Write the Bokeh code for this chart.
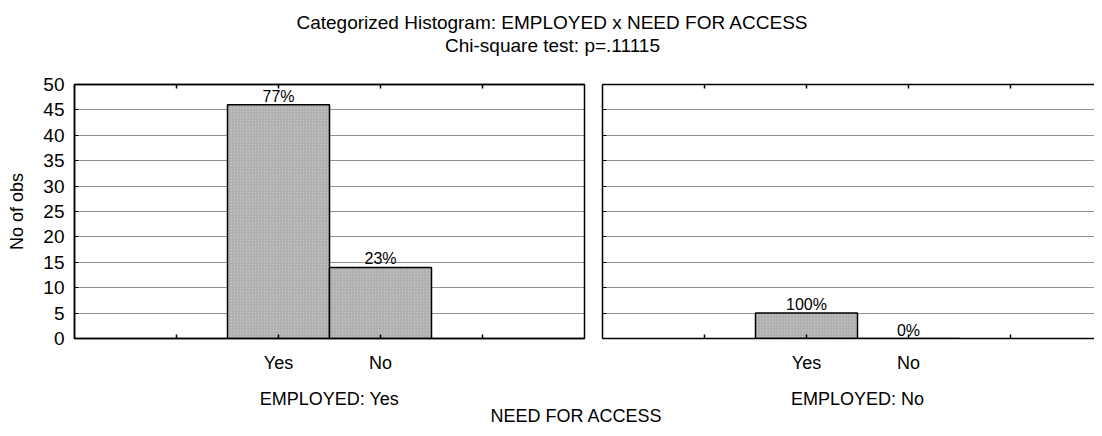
from bokeh.plotting import figure
from bokeh.layouts import column, row
from bokeh.models import Range1d, FixedTicker, LinearAxis, ColumnDataSource, Grid
from bokeh.core.properties import value
from bokeh.embed import file_html
from bokeh.resources import INLINE

# ---- data ----
title_line1 = "Categorized Histogram: EMPLOYED x NEED FOR ACCESS"
title_line2 = "Chi-square test: p=.11115"
x_title = "NEED FOR ACCESS"
y_title = "No of obs"
need_categories = ["Yes", "No"]
panel_labels = ["EMPLOYED: Yes", "EMPLOYED: No"]
counts_employed_yes = [46, 14]
counts_employed_no = [5, 0]
y_ticks = [0, 5, 10, 15, 20, 25, 30, 35, 40, 45, 50]

# ---- style / layout ----
FONT = "Liberation Sans"
TOTAL_W = 1094
FRAME_H = 254
UNIT_PX = 102
LEFT_BORDER = 74
GAP_L = 2
GAP_R = 16
FRAME_W1 = 5 * UNIT_PX
FRAME_W2 = TOTAL_W - LEFT_BORDER - FRAME_W1 - GAP_L - GAP_R
TOP_BORDER = 24
BOTTOM_BORDER = 36
TITLE_H = 60
FOOT_H = 48
OFFSET = 2  # first category sits at x=2 (ticks at 1..4)


def make_panel(counts, first):
    frame_w = FRAME_W1 if first else FRAME_W2
    xmax = frame_w / UNIT_PX
    p = figure(frame_width=frame_w, frame_height=FRAME_H,
               x_range=Range1d(0, xmax), y_range=Range1d(0, 50),
               x_axis_type=None, y_axis_type=None,
               output_backend="svg", toolbar_location=None,
               min_border_left=LEFT_BORDER if first else GAP_R,
               min_border_right=GAP_L if first else 0,
               min_border_top=TOP_BORDER, min_border_bottom=BOTTOM_BORDER,
               background_fill_color="white", border_fill_color="white")
    p.outline_line_color = "black" if first else None
    p.outline_line_width = 1.5

    xt = FixedTicker(ticks=[1, 2, 3, 4])
    overrides = {1: "", 4: ""}
    for i, c in enumerate(need_categories):
        overrides[i + OFFSET] = c

    bottom = LinearAxis(ticker=xt, major_label_overrides=overrides,
                        major_tick_in=4, major_tick_out=0, minor_tick_in=0, minor_tick_out=0,
                        axis_line_color="black", axis_line_width=1.5,
                        major_tick_line_color="black", major_tick_line_width=1.5,
                        major_label_standoff=14,
                        major_label_text_font=FONT, major_label_text_font_size="18px",
                        major_label_text_color="black")
    p.add_layout(bottom, "below")

    top = LinearAxis(ticker=FixedTicker(ticks=[1, 2, 3, 4]),
                     major_label_overrides={1: "", 2: "", 3: "", 4: ""},
                     major_tick_in=4, major_tick_out=0, minor_tick_in=0, minor_tick_out=0,
                     axis_line_color="black", axis_line_width=1.5,
                     major_tick_line_color="black", major_tick_line_width=1.5,
                     major_label_standoff=0, major_label_text_font_size="1px")
    p.add_layout(top, "above")

    yt = FixedTicker(ticks=y_ticks)
    if first:
        left = LinearAxis(ticker=yt, axis_label=y_title,
                          major_tick_in=4, major_tick_out=0, minor_tick_in=0, minor_tick_out=0,
                          axis_line_color="black", axis_line_width=1.5,
                          major_tick_line_color="black", major_tick_line_width=1,
                          major_label_standoff=10, axis_label_standoff=13,
                          major_label_text_font=FONT, major_label_text_font_size="19px",
                          major_label_text_color="black",
                          axis_label_text_font=FONT, axis_label_text_font_size="18px",
                          axis_label_text_font_style="normal", axis_label_text_color="black")
    else:
        left = LinearAxis(ticker=yt, major_label_overrides={t: "" for t in y_ticks},
                          major_tick_in=4, major_tick_out=0, minor_tick_in=0, minor_tick_out=0,
                          axis_line_color="black", axis_line_width=1.5,
                          major_tick_line_color="black", major_tick_line_width=1,
                          major_label_standoff=0, major_label_text_font_size="1px")
    p.add_layout(left, "left")

    grid = Grid(dimension=1, ticker=FixedTicker(ticks=[t for t in y_ticks if 0 < t < 50]),
                grid_line_color="#222222", grid_line_dash="1 1", grid_line_width=1)
    p.add_layout(grid)

    total = sum(counts)
    xs = [i + OFFSET for i in range(len(need_categories))]
    pct = ["%d%%" % round(100.0 * v / total) for v in counts]
    src = ColumnDataSource(dict(x=xs, top=counts, pct=pct))
    p.vbar(x="x", top="top", bottom=0, width=1.0, source=src,
           fill_color="#c6c6c6", line_color="black", line_width=1.5,
           hatch_pattern="right_diagonal_line", hatch_color="#8f8f8f",
           hatch_scale=3, hatch_weight=0.6)
    p.text(x="x", y="top", text="pct", source=src, text_align="center",
           text_baseline="bottom", text_font=value(FONT), text_font_size="16px",
           text_color="black")
    return p


left_panel = make_panel(counts_employed_yes, True)
right_panel = make_panel(counts_employed_no, False)

title_fig = figure(width=TOTAL_W, height=TITLE_H, x_range=Range1d(0, TOTAL_W),
                   y_range=Range1d(TITLE_H, 0), x_axis_type=None, y_axis_type=None,
                   output_backend="svg", toolbar_location=None, min_border=0,
                   outline_line_color=None)
title_fig.text(x=[552, 552], y=[22, 45], text=[title_line1, title_line2],
               text_align="center", text_baseline="alphabetic",
               text_font=value(FONT), text_font_size="19px", text_color="black")

# footer: panel labels (centred under each panel) and the shared x-axis title
left_center = LEFT_BORDER + FRAME_W1 / 2
right_center = LEFT_BORDER + FRAME_W1 + GAP_L + GAP_R + 5 * UNIT_PX / 2
foot_fig = figure(width=TOTAL_W, height=FOOT_H, x_range=Range1d(0, TOTAL_W),
                  y_range=Range1d(FOOT_H, 0), x_axis_type=None, y_axis_type=None,
                  output_backend="svg", toolbar_location=None, min_border=0,
                  outline_line_color=None)
foot_fig.text(x=[left_center, right_center, 576], y=[23, 23, 40],
              text=[panel_labels[0], panel_labels[1], x_title], text_align="center",
              text_baseline="alphabetic", text_font=value(FONT),
              text_font_size="18px", text_color="black")

p = column(title_fig, row(left_panel, right_panel), foot_fig)
open("out.html", "w").write(file_html(p, INLINE))
